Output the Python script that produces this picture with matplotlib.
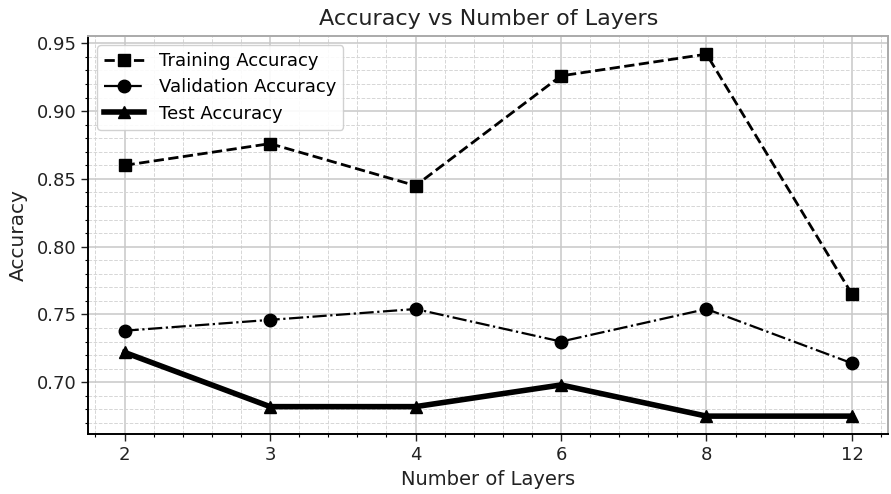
import numpy as np
import matplotlib
matplotlib.use('Agg')
from matplotlib import pyplot as plt
from matplotlib.ticker import AutoMinorLocator, MultipleLocator

# values
layers = ['2', '3', '4', '6', '8', '12']
train_acc = [0.860, 0.876, 0.845, 0.926, 0.942, 0.765]
val_acc = [0.738, 0.746, 0.754, 0.730, 0.754, 0.714]
test_acc = [0.722, 0.682, 0.682, 0.698, 0.675, 0.675]

x = np.arange(len(layers))

fig = plt.figure(figsize=(8.91, 4.94), dpi=100)
ax = fig.add_axes([0.099, 0.121, 0.898, 0.806])

ax.plot(x, train_acc, 's--', color='black', lw=2, ms=8, label='Training Accuracy')
ax.plot(x, val_acc, 'o-.', color='black', lw=1.6, ms=9, label='Validation Accuracy')
ax.plot(x, test_acc, '^-', color='black', lw=4, ms=9, label='Test Accuracy')

ax.set_xticks(x)
ax.set_xticklabels(layers)
ax.xaxis.set_minor_locator(AutoMinorLocator(5))
ax.yaxis.set_major_locator(MultipleLocator(0.05))
ax.yaxis.set_minor_locator(AutoMinorLocator(5))

ax.grid(which='major', color='#c8c8c8', linestyle='-', linewidth=1.1)
ax.grid(which='minor', color='#d6d6d6', linestyle='--', linewidth=0.7)
ax.set_axisbelow(True)

for s in ax.spines.values():
    s.set_color('black')
    s.set_linewidth(1.4)
ax.spines['top'].set_color('#aaaaaa')
ax.spines['right'].set_color('#aaaaaa')

ax.tick_params(which='major', length=5, width=1, labelsize=13, colors='#222222')
ax.tick_params(which='minor', length=2.5, width=0.8)

ax.set_title('Accuracy vs Number of Layers', fontsize=16, color='#222222', pad=8)
ax.set_xlabel('Number of Layers', fontsize=14, color='#222222')
ax.set_ylabel('Accuracy', fontsize=14.5, color='#222222', labelpad=6)

ax.legend(loc='upper left', fontsize=13, framealpha=0.9, edgecolor='#cccccc',
          handlelength=2.2, borderpad=0.4, labelspacing=0.45)

fig.savefig('out.png', dpi=100)
